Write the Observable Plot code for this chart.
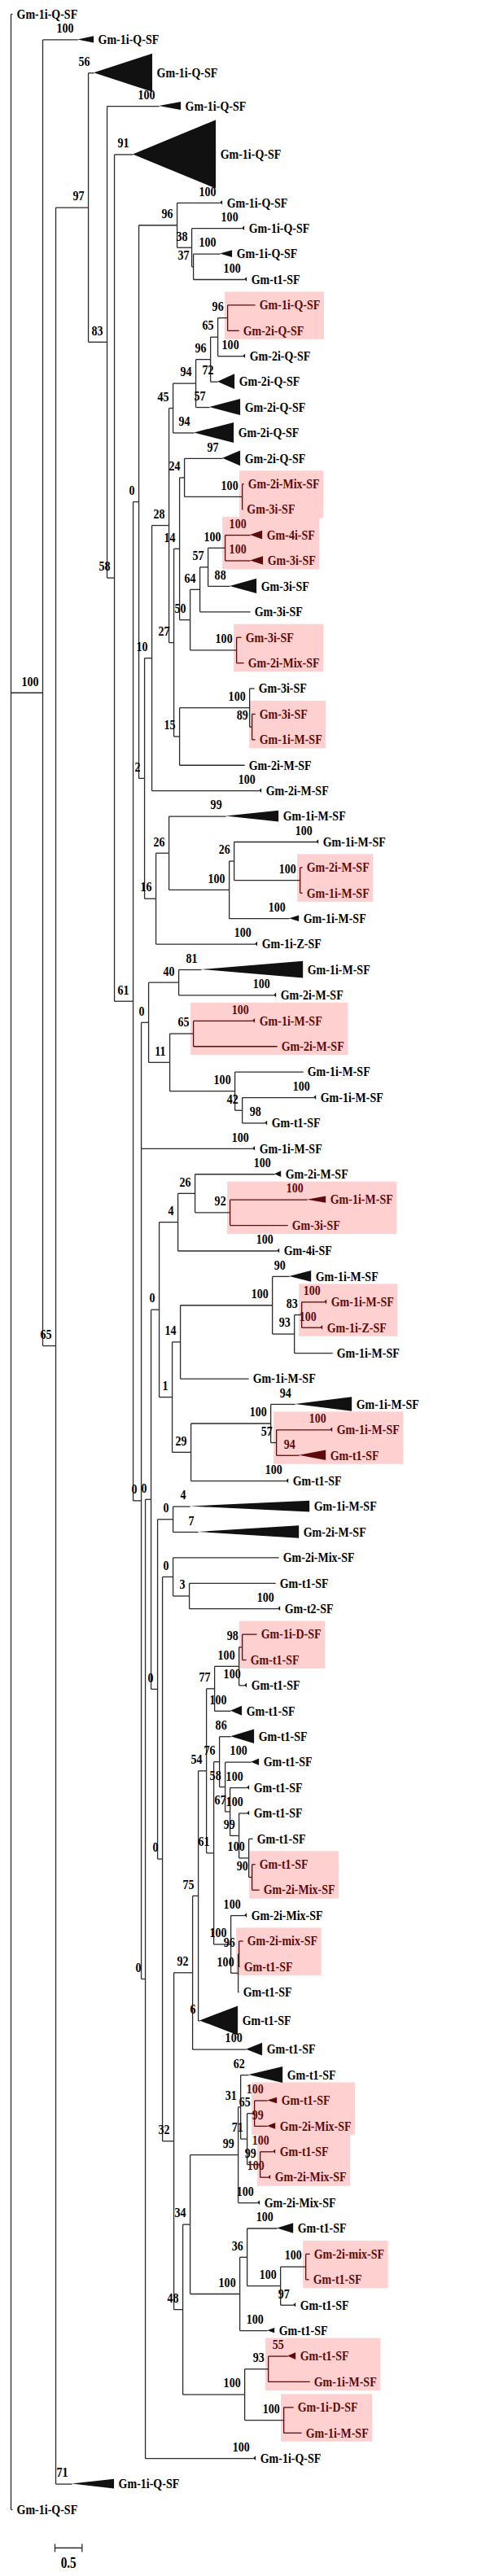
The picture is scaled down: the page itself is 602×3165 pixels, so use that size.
<!DOCTYPE html>
<html><head><meta charset="utf-8">
<script src="https://cdn.jsdelivr.net/npm/d3@7"></script>
<script src="https://cdn.jsdelivr.net/npm/@observablehq/plot@0.6"></script>
<style>
html,body{margin:0;padding:0;background:#fff;}
svg{display:block;}
</style></head><body>
<script>
// ---------------- DATA ----------------
// Tree topology with branch lengths (substitutions/site), bootstrap support on internal nodes.
// Leaf metadata: b = bootstrap of a collapsed clade, t = triangle length (branch units),
// h = triangle half-height (rows), tip = tiny collapsed clade, hl = highlighted (pink) clade.
const newick = `
(
 Gm-1i-Q-SF:0.03,
 (
  Gm-1i-Q-SF[b=100,t=0.30,h=0.13]:0.645,
  (
   (
    Gm-1i-Q-SF[b=56,t=1.08,h=0.75]:0.105,
    (
     Gm-1i-Q-SF[b=100,t=0.405,h=0.16]:0.96,
     (
      Gm-1i-Q-SF[b=91,t=1.53,h=1.34]:0.345,
      (
       (
        (
         Gm-1i-Q-SF[b=100,tip]:0.795,
         (
          Gm-1i-Q-SF[b=100,tip]:0.93,
          (
           Gm-1i-Q-SF[b=100,t=0.225,h=0.14]:0.495,
           Gm-t1-SF[b=100,tip]:0.945
          )37:0.03
         )38:0.27
        )96:0.705,
        (
         (
          (
           (
            (
             (
              (
               (Gm-1i-Q-SF:0.51,Gm-2i-Q-SF:0.21)96[hl]:0.18,
               Gm-2i-Q-SF[b=100,tip]:0.465
              )65:0.135,
              Gm-2i-Q-SF[b=72,t=0.315,h=0.3]:0.135
             )96:0.27,
             Gm-2i-Q-SF[b=57,t=0.57,h=0.32]:0.255
            )94:0.42,
            Gm-2i-Q-SF[b=94,t=0.735,h=0.4]:0.39
           )45:0.075,
           (
            (
             (
              Gm-2i-Q-SF[b=97,t=0.33,h=0.3]:0.705,
              (Gm-2i-Mix-SF:0.03,Gm-3i-SF:0.01)100[hl]:1.065
             )24:0.09,
             (
              (
               (
                (Gm-4i-SF[b=100,t=0.225,h=0.17]:0.465,Gm-3i-SF[b=100,t=0.24,h=0.17]:0.465)100[hl]:0.315,
                Gm-3i-SF[b=88,t=0.495,h=0.29]:0.405
               )57:0.15,
               Gm-3i-SF:0.93
              )64:0.18,
              (Gm-3i-SF:0.09,Gm-2i-Mix-SF:0.135)100[hl]:0.855
             )50:0.195
            )14:0.105,
            (
             (
              Gm-3i-SF:0.09,
              (Gm-3i-SF:0.06,Gm-1i-M-SF:0.06)89[hl]:0.045
             )100:1.29,
             Gm-2i-M-SF:1.2
            )15:0.105
           )27:0.09
          )28:0.315,
          Gm-2i-M-SF[b=100,tip]:1.98
         )10:0.135,
         (
          (
           Gm-1i-M-SF[b=99,t=0.975,h=0.22]:1.05,
           (
            (
             Gm-1i-M-SF[b=100,tip]:1.515,
             (Gm-2i-M-SF:0.045,Gm-1i-M-SF:0.045)100[hl]:1.215
            )26:0.09,
            Gm-1i-M-SF[b=100,t=0.18,h=0.12]:1.11
           )100:1.11
          )26:0.24,
          Gm-1i-Z-SF[b=100,tip]:1.83
         )16:0.21
        )2:0.105
       )0:0.105,
       (
        (
         (
          Gm-1i-M-SF[b=81,t=1.875,h=0.33]:0.42,
          Gm-2i-M-SF[b=100,tip]:1.755
         )40:0.555,
         (
          (Gm-1i-M-SF[b=100,tip]:1.095,Gm-2i-M-SF:1.545)65[hl]:0.435,
          (
           Gm-1i-M-SF:1.26,
           (Gm-1i-M-SF[b=100,tip]:1.32,Gm-t1-SF[b=98,tip]:0.42)42:0.135
          )100:1.2
         )11:0.39
        )0:0.135,
        Gm-1i-M-SF[b=100,tip]:2.055,
        (
         (
          (
           (
            (
             Gm-2i-M-SF[b=100,t=0.12,h=0.12]:1.47,
             (Gm-1i-M-SF[b=100,t=0.345,h=0.13]:1.425,Gm-3i-SF:1.065)92[hl]:0.645
            )26:0.315,
            Gm-4i-SF[b=100,tip]:1.83
           )4:0.345,
           (
            (
             (
              Gm-1i-M-SF[b=90,t=0.405,h=0.22]:0.315,
              (
               (Gm-1i-M-SF[b=100,tip]:0.42,Gm-1i-Z-SF[b=100,tip]:0.345)83[hl]:0.135,
               Gm-1i-M-SF:0.705
              )93:0.405
             )100:1.695,
             Gm-1i-M-SF:1.26
            )14:0.15,
            (
             (
              Gm-1i-M-SF[b=94,t=1.05,h=0.28]:0.45,
              (Gm-1i-M-SF[b=100,tip]:0.99,Gm-t1-SF[b=94,t=0.495,h=0.2]:0.42)57[hl]:0.105
             )100:1.47,
             Gm-t1-SF[b=100,tip]:1.755
            )29:0.345
           )1:0.24
          )0:0.15,
          (
           (
            Gm-1i-M-SF[b=4,t=2.205,h=0.22]:0.315,
            Gm-2i-M-SF[b=7,t=1.86,h=0.25]:0.465
           )0:0.285,
           (
            (
             Gm-2i-Mix-SF:1.95,
             (Gm-t1-SF:1.59,Gm-t2-SF[b=100,tip]:1.635)3:0.3
            )0:0.195,
            (
             (
              (
               (
                (
                 (
                  (Gm-1i-D-SF:0.27,Gm-t1-SF:0.075)98[hl]:0.06,
                  Gm-t1-SF[b=100,tip]:0.105
                 )100:0.45,
                 Gm-t1-SF[b=100,t=0.21,h=0.19]:0.3
                )77:0.15,
                (
                 (
                  Gm-t1-SF[b=86,t=0.435,h=0.28]:0.21,
                  (
                   Gm-t1-SF[b=100,t=0.15,h=0.13]:0.48,
                   (
                    Gm-t1-SF[b=100,tip]:0.315,
                    (
                     Gm-t1-SF[b=100,tip]:0.15,
                     (
                      Gm-t1-SF:0.075,
                      (Gm-t1-SF:0.06,Gm-2i-Mix-SF:0.135)90[hl]:0.06
                     )100:0.18
                    )99:0.165
                   )67:0.09
                  )58:0.105
                 )76:0.105,
                 (
                  Gm-2i-Mix-SF[b=100,tip]:0.255,
                  (
                   (Gm-2i-mix-SF:0.075,Gm-t1-SF:0.015)96[hl]:0.015,
                   Gm-t1-SF:0.015
                  )100:0.135
                 )100:0.315
                )61:0.135
               )54:0.15,
               Gm-t1-SF[b=6,t=0.705,h=0.57]:0.03
              )75:0.105,
              Gm-t1-SF[b=100,t=0.3,h=0.25]:0.99
             )92:0.345,
             (
              (
               (
                (
                 Gm-t1-SF[b=62,t=0.63,h=0.32]:0.15,
                 (
                  (Gm-t1-SF[b=100,t=0.18,h=0.12]:0.24,Gm-2i-Mix-SF[b=99,t=0.15,h=0.12]:0.24)65[hl]:0.135,
                  (Gm-t1-SF[b=100,tip]:0.24,Gm-2i-Mix-SF[b=100,tip]:0.15)99[hl]:0.24
                 )71:0.12
                )31:0.045,
                Gm-2i-Mix-SF[b=100,tip]:0.36
               )99:0.885,
               (
                (
                 Gm-t1-SF[b=100,t=0.3,h=0.2]:0.555,
                 (
                  (Gm-2i-mix-SF:0.075,Gm-t1-SF:0.06)100[hl]:0.465,
                  Gm-t1-SF[b=97,tip]:0.24
                 )100:0.615
                )36:0.135,
                Gm-t1-SF[b=100,t=0.135,h=0.1]:0.51
               )100:0.915
              )34:0.135,
              (
               (Gm-t1-SF[b=55,t=0.15,h=0.14]:0.36,Gm-1i-M-SF:0.765)93[hl]:0.435,
               (Gm-1i-D-SF:0.18,Gm-1i-M-SF:0.33)100[hl]:0.72
              )100:1.14
             )48:0.165
            )32:0.21
           )0:0.09
          )0:0.12
         )0:0.105,
         Gm-1i-Q-SF[b=100,tip]:1.995
        )0:0.075
       )0:0.15
      )61:0.345
     )58:0.135
    )83:0.345
   )97:0.6,
   Gm-1i-Q-SF[b=71,t=0.78,h=0.19]:0.3
  )65:0.24
 )100:0.585,
 Gm-1i-Q-SF:0.03
);`;
const scaleBarLengths = [0.5];

// ---------------- PARSE & LAYOUT ----------------
function parseNewick(str) {
  const s = str.replace(/\s+/g, "");
  let i = 0;
  const readUntil = (stops) => { let o = ""; while (i < s.length && !stops.includes(s[i])) o += s[i++]; return o; };
  function node() {
    const n = {children: [], meta: {}};
    if (s[i] === "(") {
      i++;
      n.children.push(node());
      while (s[i] === ",") { i++; n.children.push(node()); }
      i++;
    }
    n.label = readUntil(",():;[");
    if (s[i] === "[") {
      i++;
      const m = readUntil("]"); i++;
      for (const kv of m.split(",")) {
        const [k, v] = kv.split("=");
        n.meta[k] = v === undefined ? true : +v;
      }
    }
    if (s[i] === ":") { i++; n.len = +readUntil(",();"); }
    return n;
  }
  return node();
}

const tree = parseNewick(newick);
const TIP_T = 0.045, TIP_H = 0.09;
const leaves = [], internals = [], all = [];
(function walk(n, px, parent, inHl) {
  n.parent = parent;
  n.x = px + (n.len || 0);
  if (n.meta.tip) { n.meta.t = TIP_T; n.meta.h = TIP_H; }
  n.hl = !!n.meta.hl;
  n.inHl = inHl || n.hl;
  all.push(n);
  if (n.children.length) { internals.push(n); n.children.forEach(c => walk(c, n.x, n, n.inHl)); }
  else leaves.push(n);
})(tree, 0, null, false);

let row = 0, prevW = 0;
leaves.forEach((l, k) => {
  const w = l.meta.h ? Math.max(1, 2 * l.meta.h + 0.1) : 1;
  if (k > 0) row += (prevW + w) / 2;
  l.y = row; prevW = w;
});
(function setY(n) {
  if (n.children.length) {
    n.children.forEach(setY);
    n.y = (n.children[0].y + n.children[n.children.length - 1].y) / 2;
  }
})(tree);
function leavesOf(n) { return n.children.length ? n.children.flatMap(leavesOf) : [n]; }

// ---------------- GEOMETRY ----------------
const W = 602, H = 3165;
const UX = 66.7;                 // px per unit of branch length
const ROOT_PX = 13, TOP_PX = 17, BOTTOM_PX = 3083;
const lastRow = leaves[leaves.length - 1].y;
const RY = (BOTTOM_PX - TOP_PX) / lastRow;
const px2x = p => p / UX, px2y = p => p / RY;

const FONT = "Liberation Serif", FS = 16.5, SQUEEZE = 0.85, LABEL_DX = 5;
const INK = "#2a2a2a", HL_INK = "#5c0b0b", HL_FILL = "#ffd0d0";

const ctx = document.createElement("canvas").getContext("2d");
ctx.font = `bold ${FS}px '${FONT}'`;
const textW = s => ctx.measureText(s).width * SQUEEZE;

const hEdges = all.filter(n => n.parent).map(n => ({x1: n.parent.x, x2: n.x, y: n.y, hl: n.parent.inHl}));
const vEdges = internals.map(n => ({x: n.x, y1: n.children[0].y, y2: n.children[n.children.length - 1].y, hl: n.inHl}));

const triPts = [];
leaves.filter(l => l.meta.t).forEach((l, k) => {
  triPts.push({id: k, x: l.x, y1: l.y, y2: l.y, hl: l.inHl});
  triPts.push({id: k, x: l.x + l.meta.t, y1: l.y - l.meta.h, y2: l.y + l.meta.h, hl: l.inHl});
});

const leafLabels = leaves.map(l => ({x: l.x + (l.meta.t || 0), y: l.y, text: l.label, hl: l.inHl}));

const boots = [];
internals.forEach(n => { if (n.parent && n.label !== "") boots.push({x: n.x, y: n.y, text: n.label, hl: n.parent.inHl}); });
leaves.forEach(l => { if (l.meta.b !== undefined) boots.push({x: l.x, y: l.y, text: String(l.meta.b), hl: l.inHl}); });

const boxes = internals.filter(n => n.hl).map(n => {
  const ls = leavesOf(n);
  const right = d3.max(ls, l => l.x + (l.meta.t || 0) + px2x(LABEL_DX + textW(l.label)));
  const first = ls[0], last = ls[ls.length - 1];
  return {x1: n.x - px2x(3), x2: right + px2x(5),
          y1: first.y - px2y(first.meta.b !== undefined ? 22 : 16), y2: last.y + px2y(11)};
});

const sbX0 = px2x(67 - ROOT_PX), sbY = lastRow + px2y(47);
const scaleBar = scaleBarLengths.map(len => ({x1: sbX0, x2: sbX0 + len, y: sbY, len}));
const scaleTicks = scaleBar.flatMap(d => [d.x1, d.x2].map(x => ({x, y1: d.y - px2y(5), y2: d.y + px2y(5)})));

const textStyle = {fontFamily: FONT, fontSize: FS, fontWeight: "bold"};
const plain = d => !d.hl, pinkish = d => d.hl;

const chart = Plot.plot({
  width: W, height: H, margin: 0,
  x: {domain: [-ROOT_PX / UX, (W - ROOT_PX) / UX], range: [0, W], axis: null},
  y: {domain: [-TOP_PX / RY, (H - TOP_PX) / RY], range: [0, H], axis: null},
  style: {background: "#fff"},
  marks: [
    Plot.rect(boxes, {x1: "x1", x2: "x2", y1: "y1", y2: "y2", fill: HL_FILL}),
    Plot.link(hEdges, {filter: plain, x1: "x1", x2: "x2", y1: "y", y2: "y", stroke: INK, strokeWidth: 1.3}),
    Plot.link(hEdges, {filter: pinkish, x1: "x1", x2: "x2", y1: "y", y2: "y", stroke: HL_INK, strokeWidth: 1.3}),
    Plot.link(vEdges, {filter: plain, x1: "x", x2: "x", y1: "y1", y2: "y2", stroke: INK, strokeWidth: 1.3}),
    Plot.link(vEdges, {filter: pinkish, x1: "x", x2: "x", y1: "y1", y2: "y2", stroke: HL_INK, strokeWidth: 1.3}),
    Plot.areaY(triPts, {filter: plain, x: "x", y1: "y1", y2: "y2", z: "id", fill: "#111"}),
    Plot.areaY(triPts, {filter: pinkish, x: "x", y1: "y1", y2: "y2", z: "id", fill: HL_INK}),
    Plot.text(leafLabels, {filter: plain, x: "x", y: "y", text: "text", fill: "black", textAnchor: "start", dx: LABEL_DX, ...textStyle}),
    Plot.text(leafLabels, {filter: pinkish, x: "x", y: "y", text: "text", fill: HL_INK, textAnchor: "start", dx: LABEL_DX, ...textStyle}),
    Plot.text(boots, {filter: plain, x: "x", y: "y", text: "text", fill: "black", textAnchor: "end", dx: -5, dy: -14, ...textStyle}),
    Plot.text(boots, {filter: pinkish, x: "x", y: "y", text: "text", fill: HL_INK, textAnchor: "end", dx: -5, dy: -14, ...textStyle}),
    Plot.link(scaleBar, {x1: "x1", x2: "x2", y1: "y", y2: "y", stroke: INK, strokeWidth: 1.3}),
    Plot.link(scaleTicks, {x1: "x", x2: "x", y1: "y1", y2: "y2", stroke: INK, strokeWidth: 1.3}),
    Plot.text(scaleBar, {x: d => (d.x1 + d.x2) / 2, y: "y", text: d => String(d.len), dy: 19, fill: "black", ...textStyle, fontSize: 18})
  ]
});

// condense the serif glyphs horizontally, like the original figure's lettering
for (const t of chart.querySelectorAll("text")) {
  const x = parseFloat(t.getAttribute("x")) || 0;
  let tr = t.getAttribute("transform") || "";
  if (x) { tr += ` translate(${x},0)`; t.removeAttribute("x"); }
  t.setAttribute("transform", tr + ` scale(${SQUEEZE},1)`);
}
document.body.appendChild(chart);
</script>
</body></html>
